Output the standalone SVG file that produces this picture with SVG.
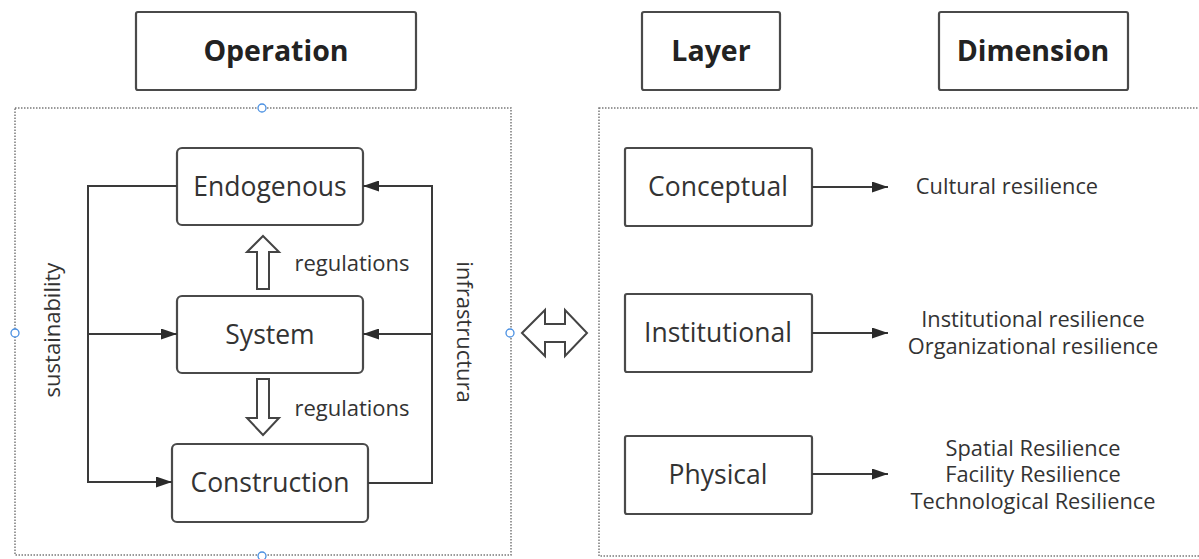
<svg xmlns="http://www.w3.org/2000/svg" width="1199" height="559" viewBox="0 0 1199 559">
<style>
.box{fill:#fff;stroke:#4a4a4a;stroke-width:2.2}
.title{font-family:"Open Sans","Noto Sans",sans-serif;font-weight:bold;font-size:28.5px;fill:#222;text-anchor:middle}
.node{font-family:"Open Sans","Noto Sans",sans-serif;font-size:26.5px;fill:#333;text-anchor:middle}
.lbl{font-family:"Open Sans","Noto Sans",sans-serif;font-size:22px;fill:#333;text-anchor:middle}
.dim{font-family:"Open Sans","Noto Sans",sans-serif;font-size:21.8px;fill:#333;text-anchor:middle}
.con{fill:none;stroke:#3a3a3a;stroke-width:2}
.frame{fill:none;stroke:#7a7a7a;stroke-width:1.5;stroke-dasharray:1.5 1.5}
.handle{fill:#fff;stroke:#4a90e2;stroke-width:1.3}
.hollow{fill:#fff;stroke:#444;stroke-width:2;stroke-linejoin:miter}
</style>
<defs>
<marker id="a2" viewBox="0 0 10 10" refX="10" refY="5" markerWidth="16" markerHeight="11" markerUnits="userSpaceOnUse" orient="auto" preserveAspectRatio="none">
<path d="M0,0 L10,5 L0,10 z" fill="#2a2a2a"/>
</marker>
</defs>

<g id="frames">
<rect class="frame" x="15" y="108" width="496" height="447"/>
<rect class="frame" x="599" y="108" width="640" height="448"/>
<circle class="handle" cx="262" cy="108" r="4"/>
<circle class="handle" cx="15" cy="333" r="4"/>
<circle class="handle" cx="510" cy="333" r="4"/>
<circle class="handle" cx="262" cy="556" r="4"/>
</g>

<g id="operation">
<rect class="box" x="136" y="12" width="280" height="78" rx="2"/>
<text class="title" x="276" y="61">Operation</text>
</g>
<g id="layer">
<rect class="box" x="642" y="12" width="138" height="78" rx="2"/>
<text class="title" x="711" y="61">Layer</text>
</g>
<g id="dimension">
<rect class="box" x="939" y="12" width="189" height="78" rx="2"/>
<text class="title" x="1033" y="61">Dimension</text>
</g>

<g id="endogenous">
<rect class="box" x="177" y="148" width="186" height="77" rx="5"/>
<text class="node" x="270" y="196">Endogenous</text>
</g>
<g id="system">
<rect class="box" x="177" y="296" width="186" height="77" rx="5"/>
<text class="node" x="270" y="344">System</text>
</g>
<g id="construction">
<rect class="box" x="172" y="444" width="196" height="78" rx="5"/>
<text class="node" x="270" y="492">Construction</text>
</g>

<g id="conceptual">
<rect class="box" x="625" y="148" width="187" height="78" rx="2"/>
<text class="node" x="718" y="196">Conceptual</text>
</g>
<g id="institutional">
<rect class="box" x="625" y="294" width="187" height="78" rx="2"/>
<text class="node" x="718" y="342">Institutional</text>
</g>
<g id="physical">
<rect class="box" x="625" y="436" width="187" height="78" rx="2"/>
<text class="node" x="718" y="484">Physical</text>
</g>

<g id="dim-conceptual">
<text class="dim" x="1007" y="194">Cultural resilience</text>
</g>
<g id="dim-institutional">
<text class="dim" x="1033" y="327">Institutional resilience</text>
<text class="dim" x="1033" y="354">Organizational resilience</text>
</g>
<g id="dim-physical">
<text class="dim" x="1033" y="456">Spatial Resilience</text>
<text class="dim" x="1033" y="482">Facility Resilience</text>
<text class="dim" x="1033" y="509">Technological Resilience</text>
</g>

<g id="labels">
<text class="lbl" x="352" y="271">regulations</text>
<text class="lbl" x="352" y="416">regulations</text>
<text class="lbl" transform="translate(60,330) rotate(-90)">sustainability</text>
<text class="lbl" transform="translate(457,332) rotate(90)">infrastructura</text>
</g>

<g id="connectors">
<polyline class="con" points="177,186 88,186 88,482 172,482" marker-end="url(#a2)"/>
<line class="con" x1="88" y1="334" x2="177" y2="334" marker-end="url(#a2)"/>
<polyline class="con" points="368,483 432,483 432,186 363,186" marker-end="url(#a2)"/>
<line class="con" x1="432" y1="334" x2="363" y2="334" marker-end="url(#a2)"/>
<line class="con" x1="812" y1="187" x2="888" y2="187" marker-end="url(#a2)"/>
<line class="con" x1="812" y1="333" x2="888" y2="333" marker-end="url(#a2)"/>
<line class="con" x1="812" y1="474" x2="888" y2="474" marker-end="url(#a2)"/>
<polygon class="hollow" points="263,236 279,252 269,252 269,289 257,289 257,252 247,252"/>
<polygon class="hollow" points="263,435 279,418 269,418 269,379 257,379 257,418 247,418"/>
<polygon class="hollow" points="522,333 545,310 545,324 565,324 565,310 587,333 565,356 565,342 545,342 545,356"/>
</g>
</svg>
